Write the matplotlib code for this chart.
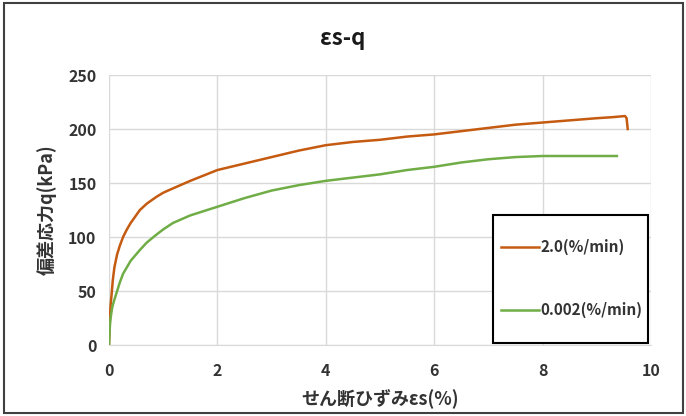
import matplotlib
matplotlib.use("Agg")
import matplotlib.pyplot as plt
from matplotlib.patches import Rectangle

plt.rcParams['font.family'] = ['Noto Sans CJK JP', 'DejaVu Sans']

# data
x_fast = [0, 0.01, 0.02, 0.03, 0.05, 0.07, 0.1, 0.15, 0.2, 0.26, 0.33, 0.4, 0.57, 0.7, 0.87,
          1.0, 1.18, 1.5, 2, 2.5, 3, 3.5, 4, 4.5, 5, 5.5, 6, 6.5, 7, 7.5, 8, 8.5, 9,
          9.3, 9.52, 9.55, 9.57]
q_fast = [0, 15, 28, 37, 48, 60, 72, 84, 92, 100, 107, 113, 125, 131, 137,
          141, 145, 152, 162, 168, 174, 180, 185, 188, 190, 193, 195, 198, 201, 204, 206, 208, 210,
          211, 212, 210, 200]
x_slow = [0, 0.01, 0.02, 0.03, 0.05, 0.07, 0.1, 0.15, 0.2, 0.26, 0.33, 0.4, 0.57, 0.7, 0.87,
          1.0, 1.18, 1.5, 2, 2.5, 3, 3.5, 4, 4.5, 5, 5.5, 6, 6.5, 7, 7.5, 8, 8.5, 9, 9.37]
q_slow = [0, 12, 20, 25, 32, 37, 42, 50, 58, 66, 72, 78, 88, 95, 102,
          107, 113, 120, 128, 136, 143, 148, 152, 155, 158, 162, 165, 169, 172, 174, 175, 175, 175, 175]
labels = ['2.0(%/min)', '0.002(%/min)']
title = 'εs-q'
xlabel = 'せん断ひずみεs(%)'
ylabel = '偏差応力q(kPa)'
xticks = [0, 2, 4, 6, 8, 10]
yticks = [0, 50, 100, 150, 200, 250]

W, H = 686, 416
fig = plt.figure(figsize=(W/100, H/100), dpi=100)
ax = fig.add_axes([109/W, 1-345/H, (651-109)/W, (345-75)/H])

ax.plot(x_fast, q_fast, color='#C55A11', lw=1.8, label=labels[0], zorder=3)
ax.plot(x_slow, q_slow, color='#70AD47', lw=1.8, label=labels[1], zorder=3)

ax.set_xlim(0, 10)
ax.set_ylim(0, 250)
ax.set_xticks(xticks)
ax.set_yticks(yticks)
ax.grid(True, color='#D9D9D9', lw=1.0)
ax.set_axisbelow(True)
for s in ['top', 'right', 'left']:
    ax.spines[s].set_visible(False)
ax.spines['bottom'].set_color('#D9D9D9')
ax.tick_params(length=0, labelsize=11.5, labelcolor='#333333', pad=13)
ax.tick_params(axis='y', pad=9)
for t in ax.get_xticklabels() + ax.get_yticklabels():
    t.set_fontweight('bold')

ax.set_xlabel(xlabel, fontsize=13, fontweight='bold', color='#333333')
ax.set_ylabel(ylabel, fontsize=13, fontweight='bold', color='#333333')
ax.xaxis.set_label_coords(0.5, (345-398)/270, transform=ax.transAxes)
ax.yaxis.set_label_coords((47-109)/542, 0.5, transform=ax.transAxes)
ax.xaxis.label.set_va('center')
ax.yaxis.label.set_va('center')
fig.text(0.5, 1-38/H, title, ha='center', va='center', fontsize=16,
         fontweight='bold', color='#1a1a1a')

# legend box
fig.patches.append(Rectangle((493/W, 1-343/H), (648-493)/W, (343-215)/H,
                             transform=fig.transFigure, facecolor='white',
                             edgecolor='black', lw=1.5, zorder=4))
leg = fig.legend(loc='center left', bbox_to_anchor=(501/W, 1-278.5/H),
                 borderaxespad=0, borderpad=0, frameon=False,
                 prop={'size': 11, 'weight': 'bold'},
                 labelspacing=3.05, handlelength=2.5, handletextpad=0.1,
                 labelcolor='#333333')
leg.set_zorder(5)

# outer border
fig.patches.append(Rectangle((4/W, 3/H), (683-4)/W, (413-3)/H, transform=fig.transFigure,
                             fill=False, edgecolor='#404040', lw=1.5))

fig.savefig('out.png', dpi=100)
